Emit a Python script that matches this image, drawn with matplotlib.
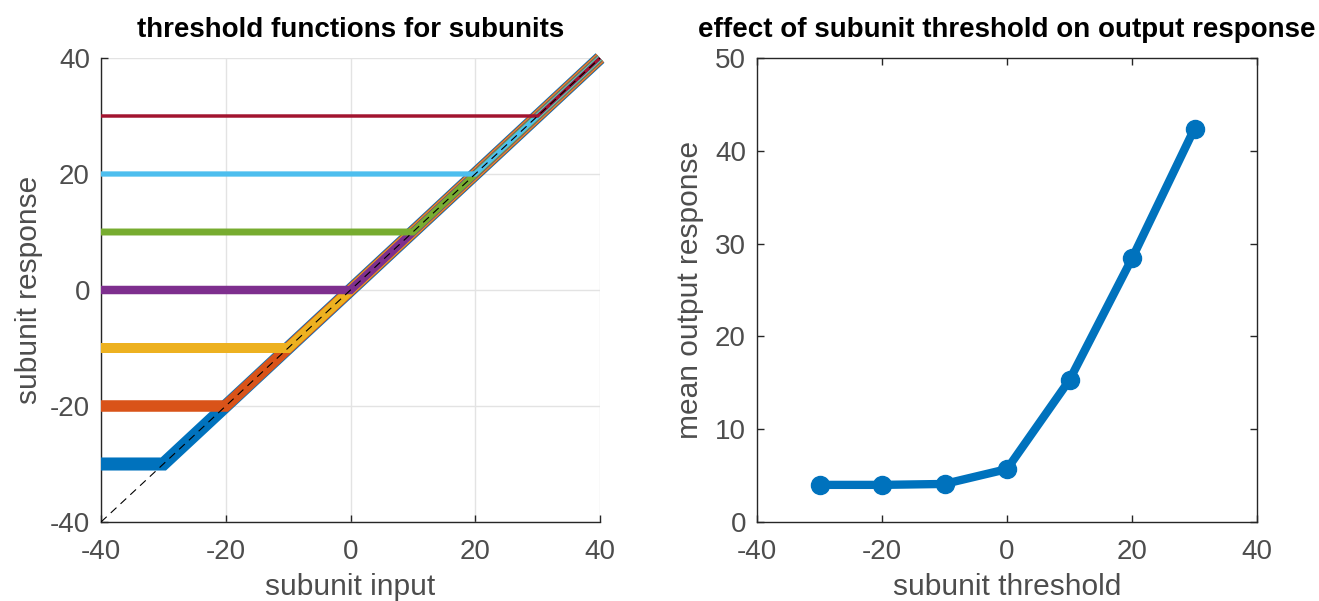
import matplotlib.pyplot as plt
import numpy as np

plt.rcParams['font.family'] = ['Liberation Sans', 'DejaVu Sans']
plt.rcParams['axes.unicode_minus'] = False

# subunit thresholds and the input range of the threshold functions
thresholds = [-30, -20, -10, 0, 10, 20, 30]
subunit_input = np.array([-40, -30, -20, -10, 0, 10, 20, 30, 40])

# mean output response for each threshold
mean_output = [4.0, 4.0, 4.1, 5.7, 15.3, 28.4, 42.4]

colors = ['#0072BD', '#D95319', '#EDB120', '#7E2F8E', '#77AC30', '#4DBEEE', '#A2142F']
widths = [9.4, 8.3, 7.2, 6.1, 5.0, 3.8, 2.5]

tick_c = '#4D4D4D'
axis_c = '#262626'

fig = plt.figure(figsize=(13.19, 6.01), dpi=100)
ax1 = fig.add_axes([101/1319, 79/601, 499/1319, 464/601])
ax2 = fig.add_axes([757/1319, 79/601, 500/1319, 464/601])

# left: threshold functions
for th, c, lw in zip(thresholds, colors, widths):
    resp = np.maximum(subunit_input, th)
    ax1.plot(subunit_input, resp, c=c, lw=lw, solid_capstyle='butt',
             solid_joinstyle='miter', clip_on=False, zorder=3)
ax1.plot(subunit_input, subunit_input, c='k', lw=0.8, ls=(0, (7, 5)), zorder=4)

ax1.set_xlim(-40, 40)
ax1.set_ylim(-40, 40)
ax1.set_xticks([-40, -20, 0, 20, 40])
ax1.set_yticks([-40, -20, 0, 20, 40])
ax1.grid(True, color='#E3E3E3', lw=1)
ax1.set_axisbelow(True)
for s in ['top', 'right']:
    ax1.spines[s].set_visible(False)
ax1.set_title('threshold functions for subunits', fontsize=20, fontweight='bold', pad=15)
ax1.set_xlabel('subunit input', fontsize=21.5, color=tick_c, labelpad=6)
ax1.set_ylabel('subunit response', fontsize=21.5, color=tick_c, labelpad=5)

# right: effect of threshold on output
ax2.plot(thresholds, mean_output, c='#0072BD', lw=6, marker='o', ms=13,
         clip_on=False, zorder=3)
ax2.set_xlim(-40, 40)
ax2.set_ylim(0, 50)
ax2.set_xticks([-40, -20, 0, 20, 40])
ax2.set_yticks([0, 10, 20, 30, 40, 50])
ax2.set_title('effect of subunit threshold on output response', fontsize=20,
              fontweight='bold', pad=15)
ax2.set_xlabel('subunit threshold', fontsize=21.5, color=tick_c, labelpad=6)
ax2.set_ylabel('mean output response', fontsize=21.5, color=tick_c, labelpad=8)
ax2.tick_params(top=True, right=True)

for ax in (ax1, ax2):
    ax.tick_params(direction='in', length=5, width=1, color=axis_c,
                   labelsize=20, labelcolor=tick_c)
    ax.tick_params(axis='x', pad=12)
    ax.tick_params(axis='y', pad=8)
    for s in ax.spines.values():
        s.set_color(axis_c)
        s.set_linewidth(1)

fig.savefig('out.png', dpi=100)
